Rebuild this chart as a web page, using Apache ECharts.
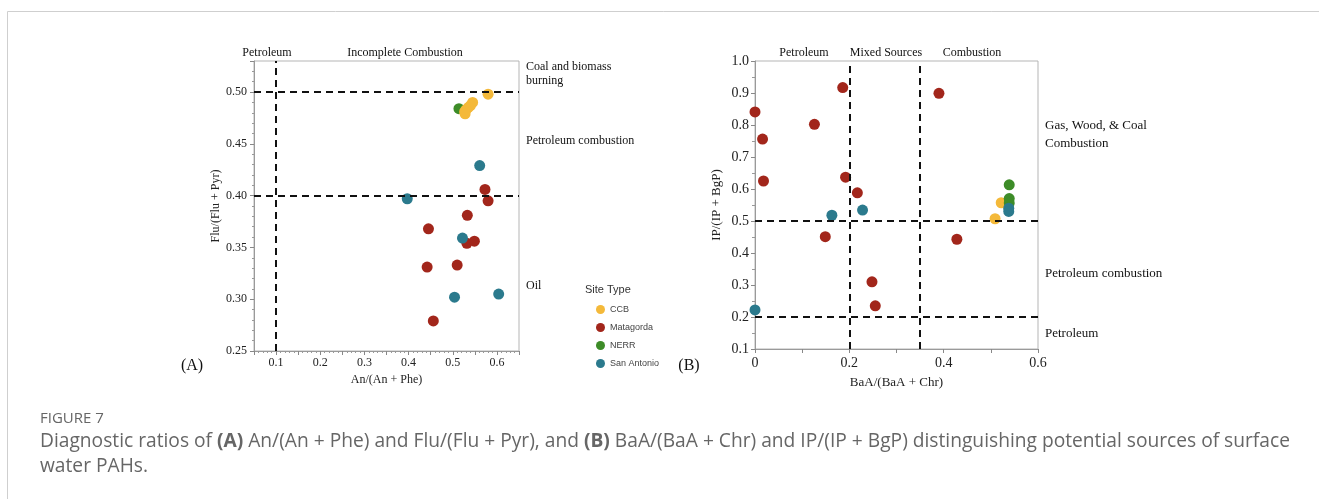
<!DOCTYPE html>
<html><head><meta charset="utf-8">
<script src="https://cdn.jsdelivr.net/npm/echarts@6/dist/echarts.min.js"></script>
<style>html,body{margin:0;padding:0;background:#fff}#c{width:1319px;height:499px}</style>
</head><body><div id="c"></div>
<script>
// ---- Data ----
const siteTypes = ['CCB', 'Matagorda', 'NERR', 'San Antonio'];
// Panel A: [An/(An+Phe), Flu/(Flu+Pyr)]
const ccbA = [[0.580,0.498],[0.545,0.490],[0.540,0.487],[0.535,0.485],[0.530,0.483],[0.527,0.481],[0.528,0.479]];
const matagordaA = [[0.573,0.406],[0.580,0.395],[0.533,0.381],[0.445,0.368],[0.532,0.354],[0.549,0.356],[0.510,0.333],[0.442,0.331],[0.456,0.279]];
const nerrA = [[0.514,0.484]];
const sanAntonioA = [[0.561,0.429],[0.397,0.397],[0.522,0.359],[0.504,0.302],[0.604,0.305]];
// Panel B: [BaA/(BaA+Chr), IP/(IP+BgP)]
const ccbB = [[0.522,0.557],[0.536,0.553],[0.509,0.507]];
const matagordaB = [[0.0,0.841],[0.016,0.756],[0.018,0.625],[0.126,0.802],[0.186,0.917],[0.192,0.637],[0.217,0.588],[0.390,0.899],[0.149,0.451],[0.428,0.443],[0.248,0.310],[0.255,0.235]];
const nerrB = [[0.539,0.613],[0.539,0.570],[0.539,0.556]];
const sanAntonioB = [[0.163,0.518],[0.228,0.534],[0.538,0.540],[0.538,0.530],[0.0,0.222]];
// Threshold lines
const refAx = [0.1];
const refAy = [0.4, 0.5];
const refBx = [0.2, 0.35];
const refBy = [0.2, 0.5];
// Axis tick labels
const yTicksA = ['0.25','0.30','0.35','0.40','0.45','0.50'];
const xTicksA = ['0.1','0.2','0.3','0.4','0.5','0.6'];
const xTicksB = ['0','0.2','0.4','0.6'];

const colors = {'CCB':'#F4B93A','Matagorda':'#A2261B','NERR':'#3D8C28','San Antonio':'#2B7A8D'};
const serif = '"Liberation Serif", "DejaVu Serif", serif';
const sans = '"Liberation Sans", Arial, sans-serif';

const chart = echarts.init(document.getElementById('c'), null, {renderer:'canvas'});

const axisLineStyle = {lineStyle:{color:'#9a9a9a', width:1}};
const labelStyle = {color:'#222', fontFamily: serif, fontSize: 12};

function scatter(name, data, xi, z){
  return {type:'scatter', name, data, xAxisIndex:xi, yAxisIndex:xi, symbolSize:11,
    itemStyle:{color:colors[name], opacity:1}, z: z, emphasis:{disabled:true}};
}
function refSeries(xi, xs, ys){
  return {type:'scatter', name:'ref'+xi, data:[], xAxisIndex:xi, yAxisIndex:xi, z:1, silent:true,
    markLine:{silent:true, symbol:['none','none'], label:{show:false}, animation:false,
      lineStyle:{color:'#111', width:2, type:[7,5]},
      emphasis:{disabled:true},
      data: xs.map(v=>({xAxis:v})).concat(ys.map(v=>({yAxis:v})))}};
}

const option = {
  animation:false,
  grid:[
    {left:254, top:61, width:265, height:290, show:true, borderColor:'#b5b5b5', borderWidth:1, backgroundColor:'transparent'},
    {left:755, top:61, width:283, height:288, show:true, borderColor:'#b5b5b5', borderWidth:1, backgroundColor:'transparent'}
  ],
  xAxis:[
    {type:'value', gridIndex:0, min:0.05, max:0.65, interval:0.05, splitLine:{show:false},
     axisLine:axisLineStyle, axisTick:{length:4, lineStyle:{color:'#888'}},
     minorTick:{show:true, splitNumber:5, length:2, lineStyle:{color:'#999'}},
     axisLabel:Object.assign({}, labelStyle, {margin:6, showMaxLabel:false, showMinLabel:false,
       formatter:v=>{const s=(Math.round(v*10)/10).toFixed(1); return (Math.abs(Math.round(v*10)-v*10)<1e-6 && xTicksA.includes(s))? s : '';}}),
     name:'An/(An + Phe)', nameLocation:'middle', nameGap:23,
     nameTextStyle:{color:'#222', fontFamily:serif, fontSize:12}},
    {type:'value', gridIndex:1, min:0, max:0.6, interval:0.1, splitLine:{show:false},
     axisLine:axisLineStyle, axisTick:{length:4, lineStyle:{color:'#888'}},
     axisLabel:Object.assign({}, labelStyle, {margin:7, fontSize:14,
       formatter:v=>{const r=Math.round(v*10)/10; const s = r===0?'0':r.toFixed(1); return xTicksB.includes(s)? s : '';}}),
     name:'BaA/(BaA + Chr)', nameLocation:'middle', nameGap:27,
     nameTextStyle:{color:'#222', fontFamily:serif, fontSize:13}}
  ],
  yAxis:[
    {type:'value', gridIndex:0, min:0.25, max:0.53, interval:0.05, splitLine:{show:false},
     axisLine:axisLineStyle, axisTick:{length:4, lineStyle:{color:'#888'}},
     minorTick:{show:true, splitNumber:5, length:2, lineStyle:{color:'#999'}},
     axisLabel:Object.assign({}, labelStyle, {margin:7,
       formatter:v=>{const s=(Math.round(v*100)/100).toFixed(2); return yTicksA.includes(s)? s : '';}}),
     name:'Flu/(Flu + Pyr)', nameLocation:'middle', nameGap:32, nameRotate:90,
     nameTextStyle:{color:'#222', fontFamily:serif, fontSize:12}},
    {type:'value', gridIndex:1, min:0.1, max:1.0, interval:0.1, splitLine:{show:false},
     axisLine:axisLineStyle, axisTick:{length:4, lineStyle:{color:'#888'}},
     minorTick:{show:true, splitNumber:2, length:3, lineStyle:{color:'#999'}},
     axisLabel:Object.assign({}, labelStyle, {margin:6, fontSize:14,
       formatter:v=>(Math.round(v*10)/10).toFixed(1)}),
     name:'IP/(IP + BgP)', nameLocation:'middle', nameGap:32, nameRotate:90,
     nameTextStyle:{color:'#222', fontFamily:serif, fontSize:13}}
  ],
  legend:{
    data:siteTypes, orient:'vertical', left:591, top:300, itemWidth:9, itemHeight:9, itemGap:9,
    icon:'circle', itemTextGap:8, selectedMode:false,
    textStyle:{color:'#444', fontFamily:sans, fontSize:9}
  },
  series:[
    refSeries(0, refAx, refAy),
    refSeries(1, refBx, refBy),
    scatter('NERR', nerrA, 0, 2),
    scatter('CCB', ccbA, 0, 3),
    scatter('Matagorda', matagordaA, 0, 3),
    scatter('San Antonio', sanAntonioA, 0, 3),
    scatter('CCB', ccbB, 1, 2),
    scatter('Matagorda', matagordaB, 1, 3),
    scatter('NERR', nerrB, 1, 3),
    scatter('San Antonio', sanAntonioB, 1, 4)
  ],
  graphic:[
    {type:'rect', shape:{x:7.5, y:11.5, width:1400, height:600}, style:{fill:'none', stroke:'#cfcfcf', lineWidth:1}, silent:true},
    // Panel A annotations
    {type:'text', x:267, y:53, style:{text:'Petroleum', font:'12px '+serif, fill:'#111', align:'center', verticalAlign:'middle'}},
    {type:'text', x:405, y:53, style:{text:'Incomplete Combustion', font:'12px '+serif, fill:'#111', align:'center', verticalAlign:'middle'}},
    {type:'text', x:526, y:74, style:{text:'Coal and biomass\nburning', font:'12px '+serif, lineHeight:14, fill:'#111', align:'left', verticalAlign:'middle'}},
    {type:'text', x:526, y:141, style:{text:'Petroleum combustion', font:'12px '+serif, fill:'#111', align:'left', verticalAlign:'middle'}},
    {type:'text', x:526, y:286, style:{text:'Oil', font:'12px '+serif, fill:'#111', align:'left', verticalAlign:'middle'}},
    {type:'text', x:192, y:366, style:{text:'(A)', font:'16px '+serif, fill:'#111', align:'center', verticalAlign:'middle'}},
    {type:'text', x:585, y:290, style:{text:'Site Type', font:'11px '+sans, fill:'#333', align:'left', verticalAlign:'middle'}},
    // Panel B annotations
    {type:'text', x:804, y:53, style:{text:'Petroleum', font:'12px '+serif, fill:'#111', align:'center', verticalAlign:'middle'}},
    {type:'text', x:886, y:53, style:{text:'Mixed Sources', font:'12px '+serif, fill:'#111', align:'center', verticalAlign:'middle'}},
    {type:'text', x:972, y:53, style:{text:'Combustion', font:'12px '+serif, fill:'#111', align:'center', verticalAlign:'middle'}},
    {type:'text', x:1045, y:135, style:{text:'Gas, Wood, & Coal\nCombustion', font:'13px '+serif, lineHeight:18, fill:'#111', align:'left', verticalAlign:'middle'}},
    {type:'text', x:1045, y:274, style:{text:'Petroleum combustion', font:'13px '+serif, fill:'#111', align:'left', verticalAlign:'middle'}},
    {type:'text', x:1045, y:334, style:{text:'Petroleum', font:'13px '+serif, fill:'#111', align:'left', verticalAlign:'middle'}},
    {type:'text', x:689, y:366, style:{text:'(B)', font:'16px '+serif, fill:'#111', align:'center', verticalAlign:'middle'}},
    // Caption
    {type:'text', x:40, y:419, style:{text:'FIGURE 7', font:'15px "Open Sans", sans-serif', fill:'#666', align:'left', verticalAlign:'middle'}},
    {type:'text', x:40, y:442, style:{
      text:'{n|Diagnostic ratios of }{b|(A)}{n| An/(An + Phe) and Flu/(Flu + Pyr), and }{b|(B)}{n| BaA/(BaA + Chr) and IP/(IP + BgP) distinguishing potential sources of surface}',
      align:'left', verticalAlign:'middle',
      rich:{n:{font:'19.2px "Open Sans", sans-serif', fill:'#666'}, b:{font:'bold 19.2px "Open Sans", sans-serif', fill:'#666'}}}},
    {type:'text', x:40, y:467, style:{text:'water PAHs.', font:'19.2px "Open Sans", sans-serif', fill:'#666', align:'left', verticalAlign:'middle'}}
  ]
};
chart.setOption(option);
</script></body></html>
